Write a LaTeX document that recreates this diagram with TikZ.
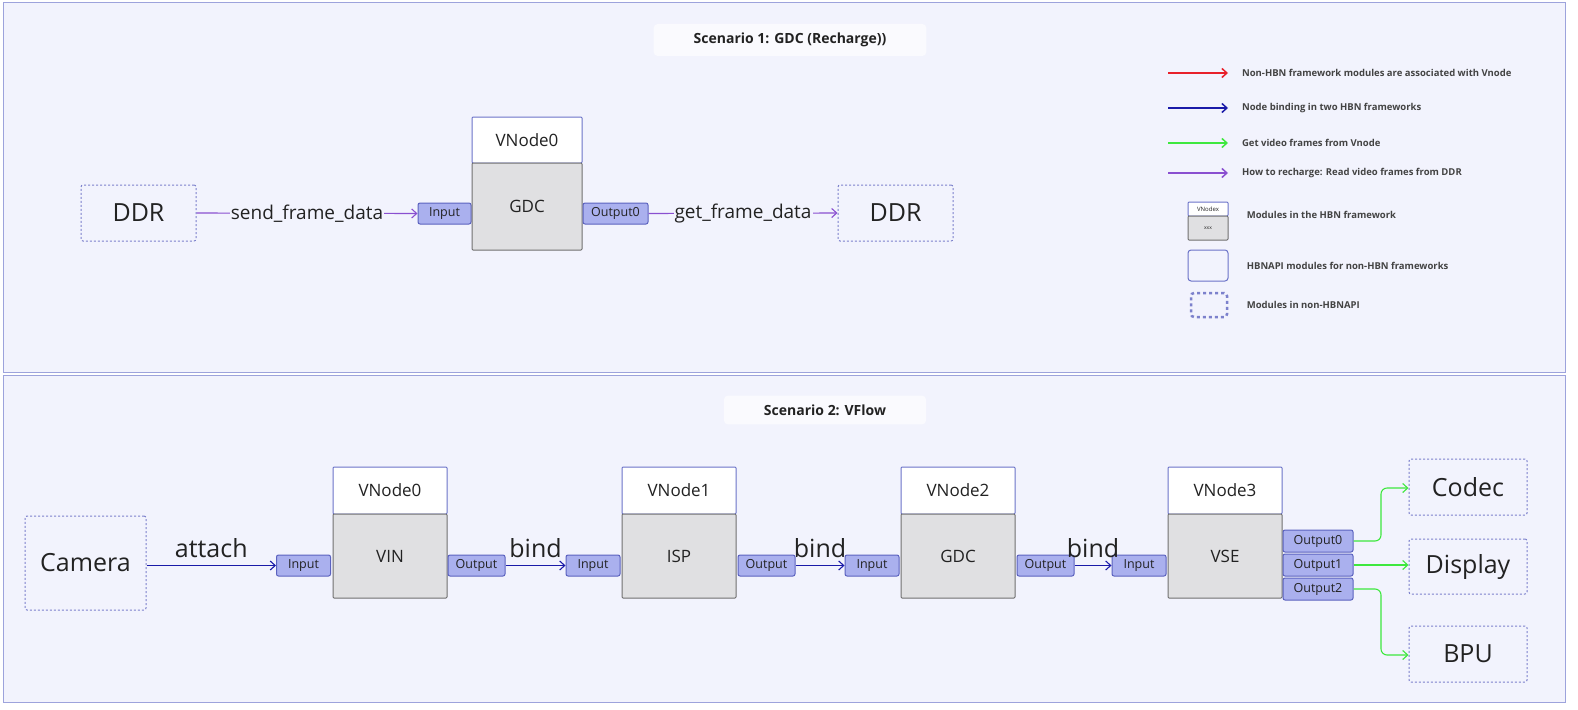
\documentclass[tikz,border=0pt]{standalone}
\usepackage{fontspec}
\setmainfont{Open Sans}
\usetikzlibrary{arrows.meta}
\definecolor{bg}{HTML}{F2F3FD}
\definecolor{frame}{HTML}{9DA3DC}
\definecolor{portf}{HTML}{AAB0EE}
\definecolor{portd}{HTML}{5B62BF}
\definecolor{hdr}{HTML}{6B73C8}
\definecolor{body}{HTML}{E0E0E2}
\definecolor{bodyd}{HTML}{707070}
\definecolor{cblue}{HTML}{1A1AA8}
\definecolor{cpur}{HTML}{8A4FD0}
\definecolor{cgreen}{HTML}{3EE83E}
\definecolor{cred}{HTML}{E8202A}
\definecolor{txt}{HTML}{222222}
\begin{document}
\begin{tikzpicture}[x=1pt,y=-1pt,line width=1pt,
  panel/.style={draw=frame,fill=bg,line width=1pt},
  title/.style={fill=white!60!bg,rounded corners=4pt,font=\fontsize{14}{17}\selectfont\bfseries,text=txt,inner xsep=40pt,inner ysep=9pt},
  ext/.style={draw=portd!80,dash pattern=on 2pt off 2pt,rounded corners=2pt,font=\fontsize{25}{30}\selectfont,text=txt},
  port/.style={draw=portd,fill=portf,rounded corners=2pt,font=\fontsize{12.5}{15}\selectfont,text=txt,inner sep=0pt},
  hdr/.style={draw=hdr,fill=white,rounded corners=1pt,font=\fontsize{17}{21}\selectfont,text=txt,inner sep=0pt},
  body/.style={draw=bodyd,fill=body,rounded corners=1pt,font=\fontsize{17}{21}\selectfont,text=txt,inner sep=0pt},
  lbl/.style={fill=bg,font=\fontsize{19}{24}\selectfont,text=txt,inner sep=1pt},
  big/.style={font=\fontsize{25}{30}\selectfont,text=txt},
  ar/.style={-{Straight Barb[length=5pt,width=9pt]},line width=1.1pt},
  lg/.style={font=\fontsize{9.5}{12}\selectfont\bfseries,text=txt!85,anchor=west}]
\useasboundingbox (0,0) rectangle (1578,709);
\fill[white] (0,0) rectangle (1578,709);
\draw[panel] (3,3) rectangle (1565,372);
\draw[panel] (3,375) rectangle (1565,702);
\node[title] (t1) at (790,40) {Scenario 1: GDC (Recharge))};
\node[title] (t2) at (825,410) {Scenario 2: VFlow};

% scenario 1
\node[ext,minimum width=115pt,minimum height=56pt] (ddr1) at (138.5,213) {DDR};
\node[port,minimum width=53pt,minimum height=21pt] (in1) at (444.5,213.5) {Input};
\node[hdr,minimum width=110pt,minimum height=46pt] (h1) at (527,140) {VNode0};
\node[body,minimum width=110pt,minimum height=87pt] (b1) at (527,206.5) {GDC};
\node[port,minimum width=65pt,minimum height=21pt] (o1) at (615.5,213.5) {Output0};
\node[ext,minimum width=115pt,minimum height=56pt] (ddr2) at (895.5,213) {DDR};
\draw[ar,cpur] (ddr1.east) -- node[lbl] {send\_frame\_data} (in1.west);
\draw[ar,cpur] (o1.east) -- node[lbl] {get\_frame\_data} (ddr2.west);

% scenario 2
\node[ext,minimum width=121pt,minimum height=94pt] (cam) at (85.5,563) {Camera};
\foreach \n/\hx/\h/\b/\ix in {0/390/VNode0/VIN/303.5, 1/679/VNode1/ISP/593, 2/958/VNode2/GDC/872, 3/1225/VNode3/VSE/1139}{
  \node[hdr,minimum width=114pt,minimum height=47pt] (h\n) at (\hx,490.5) {\h};
  \node[body,minimum width=114pt,minimum height=84pt] (b\n) at (\hx,556) {\b};
  \node[port,minimum width=54pt,minimum height=21pt] (i\n) at (\ix,565.5) {Input};
}
\foreach \n/\ox in {0/476.5,1/766.5,2/1045.5}{
  \node[port,minimum width=57pt,minimum height=21pt] (o\n) at (\ox,565.5) {Output};
}
\node[port,minimum width=70pt,minimum height=22pt] (p0) at (1318,541) {Output0};
\node[port,minimum width=70pt,minimum height=22pt] (p1) at (1318,565) {Output1};
\node[port,minimum width=70pt,minimum height=22pt] (p2) at (1318,589) {Output2};
\node[ext,minimum width=118pt,minimum height=56pt] (codec) at (1468,487) {Codec};
\node[ext,minimum width=118pt,minimum height=55pt] (disp) at (1468,566.5) {Display};
\node[ext,minimum width=118pt,minimum height=56pt] (bpu) at (1468,654) {BPU};

\draw[ar,cblue] (cam.east |- i0.west) -- node[big,above=4pt] {attach} (i0.west);
\draw[ar,cblue] (o0.east) -- node[big,above=4pt] {bind} (i1.west);
\draw[ar,cblue] (o1.east) -- node[big,above=4pt] {bind} (i2.west);
\draw[ar,cblue] (o2.east) -- node[big,above=4pt] {bind} (i3.west);
\draw[ar,cgreen,rounded corners=6pt] (p0.east) -- (1381,541) -- (1381,488) -- (codec.west |- 0,488);
\draw[ar,cgreen] (p1.east) -- (disp.west |- p1.east);
\draw[ar,cgreen,rounded corners=6pt] (p2.east) -- (1381,589) -- (1381,655) -- (bpu.west |- 0,655);

% legend
\coordinate (la) at (1168,73); \coordinate (lb) at (1228,73);
\draw[ar,cred,line width=1.5pt] (la) -- (lb) node[lg,xshift=10pt] (lt1) {Non-HBN framework modules are associated with Vnode};
\coordinate (lc) at (1168,108); \coordinate (ld) at (1228,108);
\draw[ar,cblue,line width=1.5pt] (lc) -- (ld) node[lg,xshift=10pt] (lt2) {Node binding in two HBN frameworks};
\coordinate (le) at (1168,143); \coordinate (lf) at (1228,143);
\draw[ar,cgreen,line width=1.5pt] (le) -- (lf) node[lg,xshift=10pt] (lt3) {Get video frames from Vnode};
\coordinate (lg1) at (1168,173); \coordinate (lh) at (1228,173);
\draw[ar,cpur,line width=1.5pt] (lg1) -- (lh) node[lg,xshift=10pt] (lt4) {How to recharge: Read video frames from DDR};
\node[hdr,minimum width=40pt,minimum height=14pt,font=\fontsize{6}{7}\selectfont] (lx1) at (1208,209) {VNodex};
\node[body,minimum width=40pt,minimum height=24pt,font=\fontsize{5}{6}\selectfont] (lx2) at (1208,228) {xxx};
\node[lg] (lt5) at (1243,215) {Modules in the HBN framework};
\node[draw=hdr,rounded corners=3pt,minimum width=40pt,minimum height=31pt] (lx3) at (1208,265.5) {};
\node[lg] (lt6) at (1243,266) {HBNAPI modules for non-HBN frameworks};
\node[draw=portd!80,line width=2.5pt,dash pattern=on 3pt off 3pt,rounded corners=3pt,minimum width=36pt,minimum height=24pt] (lx4) at (1209,305) {};
\node[lg] (lt7) at (1243,305) {Modules in non-HBNAPI};
\end{tikzpicture}
\end{document}
